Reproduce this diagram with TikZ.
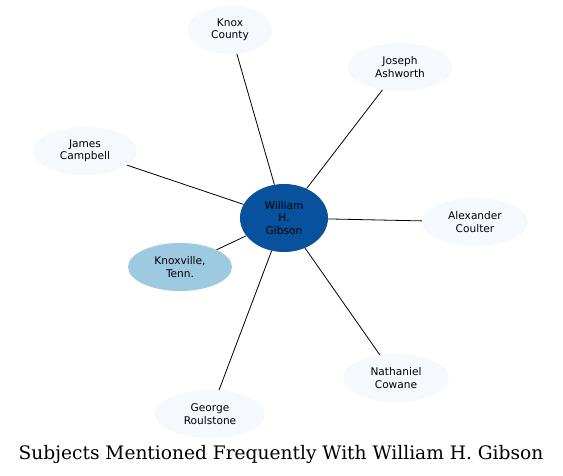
\documentclass[tikz,border=0pt]{standalone}
\usepackage{fontspec}
\setmainfont{DejaVu Serif}
\newfontfamily\nodefont{DejaVu Sans}
\usetikzlibrary{shapes.geometric}
\definecolor{lightnode}{HTML}{F5F9FE}
\definecolor{centernode}{HTML}{08519C}
\definecolor{midnode}{HTML}{9ECAE1}
\tikzset{
  person/.style={ellipse, fill=lightnode, inner sep=0pt, minimum width=104pt, minimum height=48pt,
    align=center, font=\nodefont\fontsize{10.6}{12.3}\selectfont},
  link/.style={draw=black, line width=0.8pt}
}
\begin{document}
\begin{tikzpicture}[x=1pt,y=-1pt]
\useasboundingbox (0,0) rectangle (563,475);
\node[person, minimum width=84pt] (knox) at (230,30) {Knox\\County};
\node[person] (joseph) at (400,67) {Joseph\\Ashworth};
\node[person] (james) at (85,151) {James\\Campbell};
\node[person, minimum width=88pt, minimum height=68pt, fill=centernode] (gibson) at (284,218) {William\\H.\\Gibson};
\node[person, minimum width=106pt] (alex) at (475,222) {Alexander\\Coulter};
\node[person, fill=midnode] (knoxville) at (180,267) {Knoxville,\\Tenn.};
\node[person, minimum width=106pt] (nathaniel) at (396,378) {Nathaniel\\Cowane};
\node[person, minimum width=110pt] (george) at (210,414) {George\\Roulstone};
\foreach \n in {knox,joseph,james,alex,knoxville,nathaniel,george}
  \draw[link] (gibson) -- (\n);
\node[font=\fontsize{18.6}{20}\selectfont] (title) at (281,454) {Subjects Mentioned Frequently With William H. Gibson};
\end{tikzpicture}
\end{document}
